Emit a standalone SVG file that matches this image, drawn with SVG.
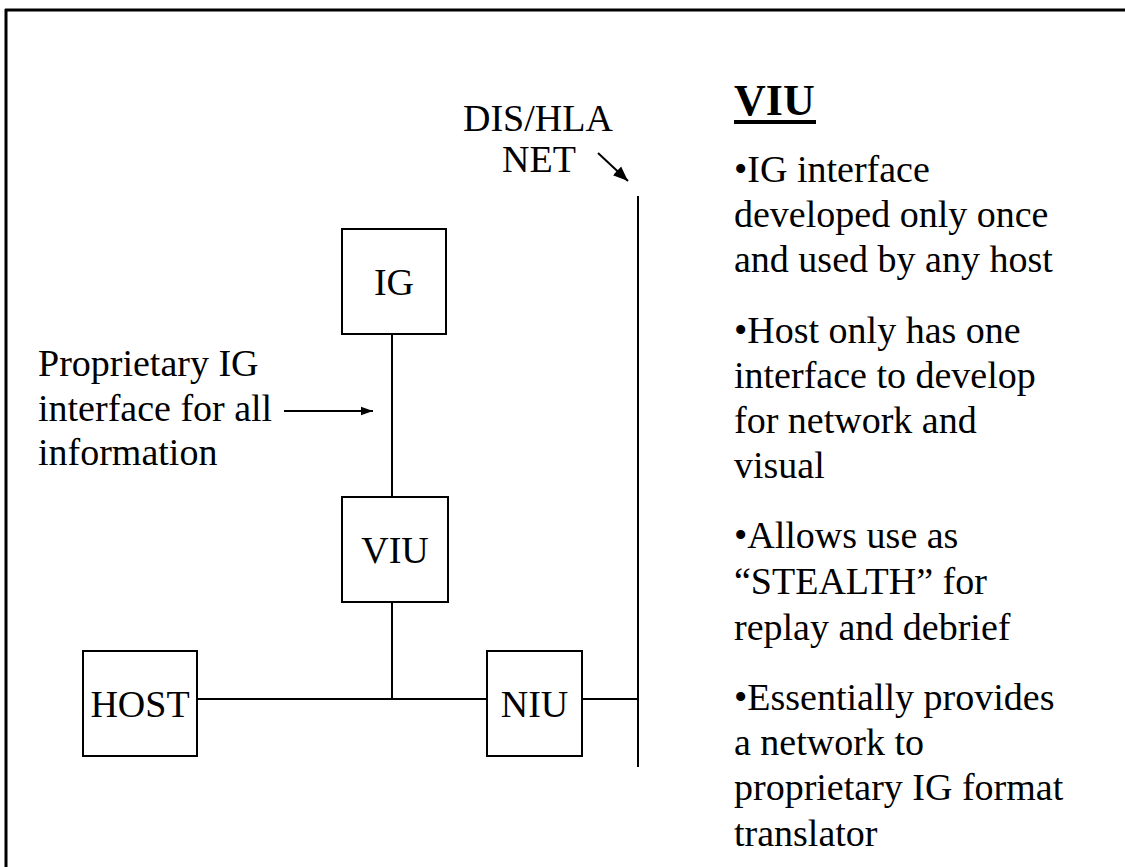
<svg xmlns="http://www.w3.org/2000/svg" width="1125" height="867" viewBox="0 0 1125 867" font-family="Liberation Serif, Times New Roman, serif">
<defs>
<style>
text{font-family:"Liberation Serif", "Times New Roman", serif}
.t{font-size:38px;fill:#000}
.title{font-size:44px;font-weight:bold;fill:#000}
.box{fill:#fff;stroke:#000;stroke-width:2}
.ln{stroke:#000;stroke-width:2;fill:none}
</style>
<marker id="ah" viewBox="0 0 10 10" refX="10" refY="5" markerWidth="12" markerHeight="12" markerUnits="userSpaceOnUse" orient="auto"><path d="M0,1.5 L10,5 L0,8.5 z" fill="#000"/></marker>
<marker id="ah2" viewBox="0 0 10 10" refX="10" refY="5" markerWidth="15" markerHeight="15" markerUnits="userSpaceOnUse" orient="auto"><path d="M0,1 L10,5 L0,9 z" fill="#000"/></marker>
</defs>
<rect width="1125" height="867" fill="#fff"/>
<g id="frame">
<line x1="5" y1="10" x2="1125" y2="10" stroke="#000" stroke-width="3"/>
<line x1="6" y1="9" x2="6" y2="867" stroke="#000" stroke-width="3"/>
</g>
<g id="connectors">
<line class="ln" x1="638" y1="196" x2="638" y2="767"/>
<line class="ln" x1="392" y1="334" x2="392" y2="497"/>
<line class="ln" x1="392" y1="602" x2="392" y2="699"/>
<line class="ln" x1="197" y1="699" x2="487" y2="699"/>
<line class="ln" x1="582" y1="699" x2="638" y2="699"/>
<line class="ln" x1="284" y1="411" x2="373" y2="411" marker-end="url(#ah)"/>
<line class="ln" x1="598" y1="153" x2="628" y2="181" marker-end="url(#ah2)"/>
</g>
<g id="node-ig"><rect class="box" x="342" y="229" width="104" height="105"/><text class="t" x="394" y="295" text-anchor="middle">IG</text></g>
<g id="node-viu"><rect class="box" x="342" y="497" width="106" height="105"/><text class="t" x="395" y="563" text-anchor="middle">VIU</text></g>
<g id="node-host"><rect class="box" x="83" y="651" width="114" height="105"/><text class="t" x="140" y="717" text-anchor="middle">HOST</text></g>
<g id="node-niu"><rect class="box" x="487" y="651" width="95" height="105"/><text class="t" x="534.5" y="717" text-anchor="middle">NIU</text></g>
<g id="label-net">
<text class="t" x="463" y="131">DIS/HLA</text>
<text class="t" x="502" y="172">NET</text>
</g>
<g id="label-prop">
<text class="t" x="38" y="376">Proprietary IG</text>
<text class="t" x="38" y="421">interface for all</text>
<text class="t" x="38" y="465">information</text>
</g>
<g id="viu-notes">
<text class="title" x="734" y="115">VIU</text>
<rect x="734" y="120" width="82" height="4" fill="#000"/>
<text class="t" x="734" y="182">•IG interface</text>
<text class="t" x="734" y="227">developed only once</text>
<text class="t" x="734" y="272">and used by any host</text>
<text class="t" x="734" y="343">•Host only has one</text>
<text class="t" x="734" y="388">interface to develop</text>
<text class="t" x="734" y="433">for network and</text>
<text class="t" x="734" y="478">visual</text>
<text class="t" x="734" y="548">•Allows use as</text>
<text class="t" x="734" y="594">“STEALTH” for</text>
<text class="t" x="734" y="640">replay and debrief</text>
<text class="t" x="734" y="710">•Essentially provides</text>
<text class="t" x="734" y="755">a network to</text>
<text class="t" x="734" y="800">proprietary IG format</text>
<text class="t" x="734" y="846">translator</text>
</g>
</svg>
